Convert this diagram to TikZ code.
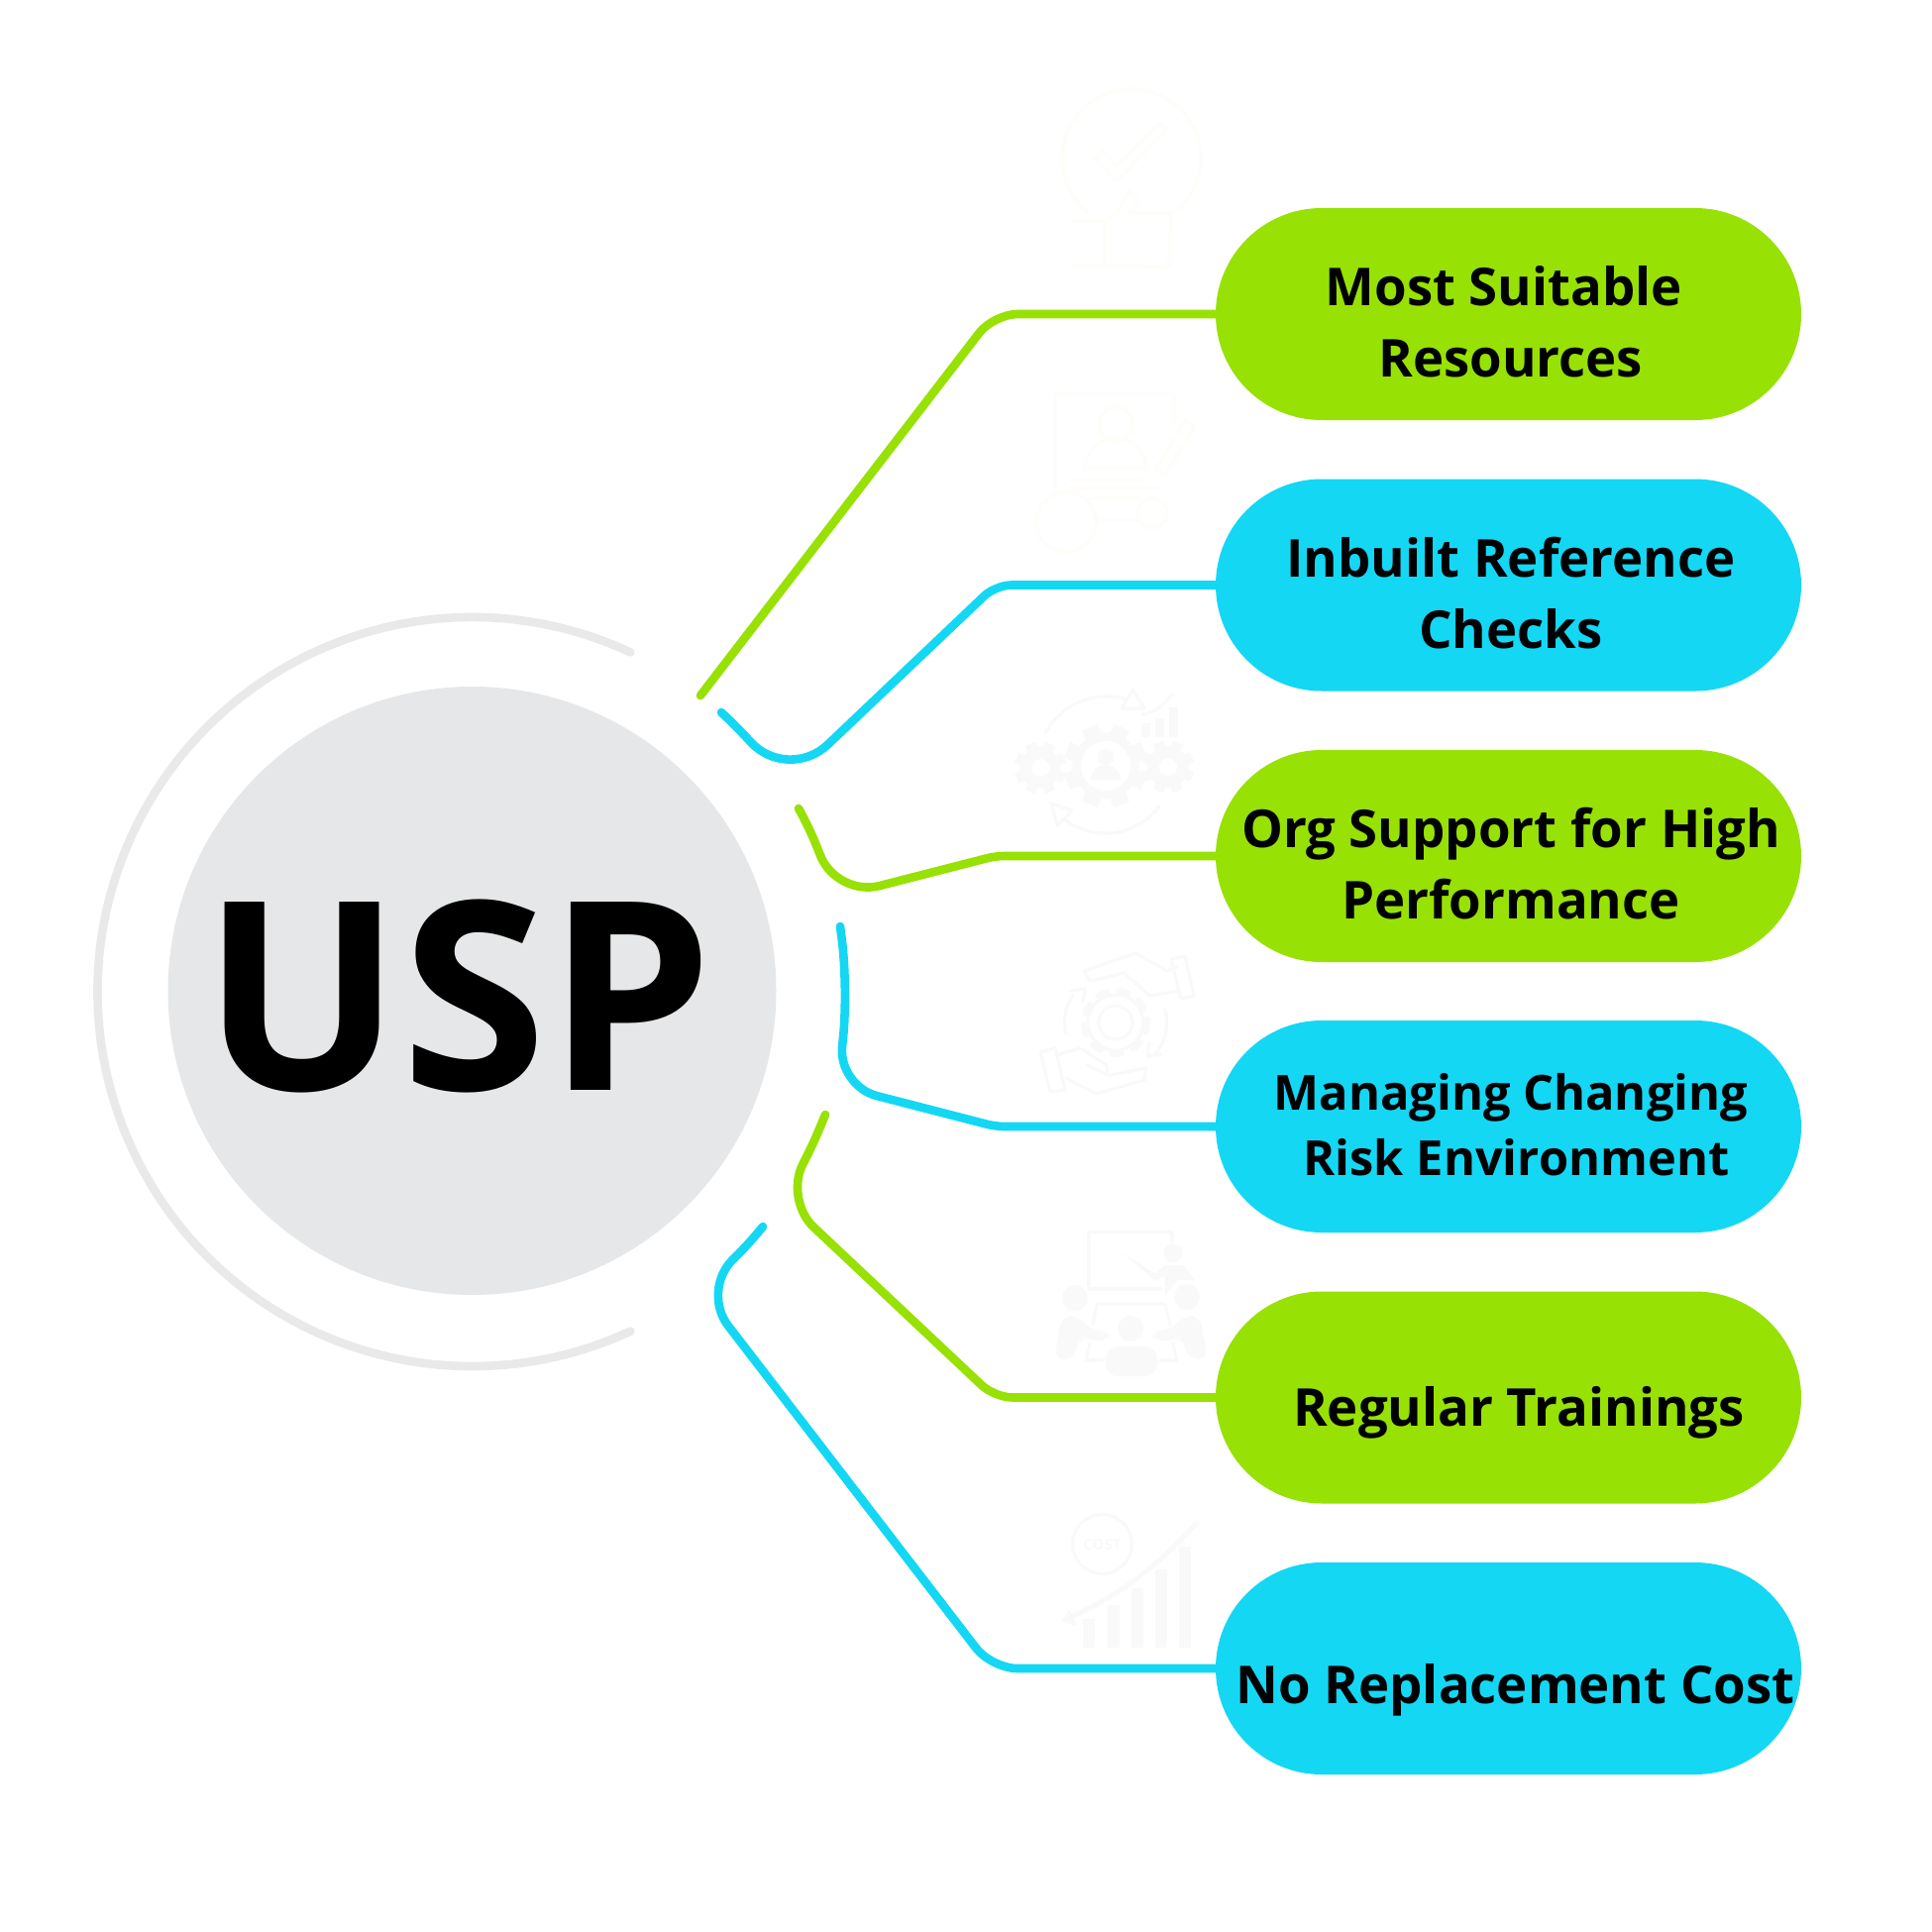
\documentclass[tikz,border=0pt]{standalone}
\usepackage{fontspec}
\setsansfont{Open Sans}
\usepackage{xcolor}
\usetikzlibrary{calc}
\definecolor{uspgrey}{HTML}{E6E7E8}
\definecolor{usparc}{HTML}{E9E9E9}
\definecolor{limefill}{HTML}{98E104}
\definecolor{aquafill}{HTML}{14D7F4}
\definecolor{iconfaint}{HTML}{F9F9F9}
\definecolor{iconpale}{HTML}{FEFDFA}
% toothed wheel: centre, outer radius, hole radius
\newcommand{\toothwheel}[3]{
  \foreach \a in {0,45,...,315}{
    \fill[iconfaint,rotate around={\a+22.5:(#1)}] ($(#1)+(-#2*0.2,-#2)$) rectangle ($(#1)+(#2*0.2,#2)$);
  }
  \fill[iconfaint] (#1) circle[radius=#2*0.8];
  \fill[white] (#1) circle[radius=#3];
}
\begin{document}
\begin{tikzpicture}[x=0.5pt,y=-0.5pt,font=\sffamily\bfseries,
 pillbox/.style={rounded corners=53.5pt,minimum width=295.5pt,minimum height=107pt,inner sep=0pt},
 pilltext/.style={align=center,font=\sffamily\bfseries\fontsize{26.35}{36}\selectfont},
 limeline/.style={draw=limefill,line width=4.3pt,line cap=round},
 aqualine/.style={draw=aquafill,line width=4.3pt,line cap=round},
 iconline/.style={draw=iconfaint,line width=1.6pt,line cap=round,line join=round},
 paleline/.style={draw=iconpale,line width=2pt,line cap=round,line join=round}]
\useasboundingbox (0,0) rectangle (1950,1950);

% centre disc with its open ring
\node[circle,fill=uspgrey,minimum size=307pt,inner sep=0pt](usp) at (476.5,1000){};
\node[font=\sffamily\bfseries\fontsize{133}{133}\selectfont](usptxt) at (462,1005){USP};
\draw[draw=usparc,line width=4.3pt,line cap=round](636.3,658.4) arc[start angle=-65,end angle=-295,radius=378];

% faint icons: thumb and check
\draw[paleline](1097,213.6) arc[start angle=130,end angle=410,radius=70];
\draw[paleline](1104,160) -- (1127,183) -- (1178,130) -- (1170,125) -- (1127,168) -- (1112,152) -- cycle;
\draw[paleline](1084,223) -- (1115,223) -- (1115,268) -- (1084,268);
\draw[paleline](1115,223) -- (1128,214) -- (1140,193) -- (1150,205) -- (1140,215) -- (1182,215) -- (1180,270) -- (1115,268);
% faint icons: form and pencil
\draw[paleline](1065,497) -- (1065,398) -- (1185,398) -- (1185,427);
\draw[paleline](1126,428) circle[radius=17];
\draw[paleline](1095,473) arc[start angle=180,end angle=360,radius=31] -- cycle;
\draw[paleline](1080,485) -- (1153,485);
\draw[paleline](1080,493) -- (1170,493);
\draw[paleline](1100,503) -- (1150,503);
\draw[paleline](1106,525) -- (1148,525);
\draw[paleline](1076,527) circle[radius=30];
\draw[paleline](1163,518) circle[radius=15];
\draw[paleline](1167,473) -- (1197,423) -- (1205,432) -- (1175,480) -- cycle;
% faint icons: three wheels, arcs and bars
\coordinate (gearmid) at (1116,773);
\coordinate (gearleft) at (1050,775);
\coordinate (gearright) at (1179,774);
\toothwheel{gearmid}{42}{25}
\toothwheel{gearleft}{26}{9}
\toothwheel{gearright}{26}{9}
\fill[iconfaint](1116,764) circle[radius=8];
\fill[iconfaint](1101,787) arc[start angle=180,end angle=360,radius=15] -- cycle;
\draw[iconline](1055,740) arc[start angle=208,end angle=285,radius=70];
\draw[iconline](1132,715) -- (1143,696) -- (1155,715) -- cycle;
\draw[iconline](1153,721) .. controls (1170,718) and (1175,710) .. (1184,700);
\fill[iconfaint](1152,730) rectangle (1161,744);
\fill[iconfaint](1166,725) rectangle (1175,744);
\fill[iconfaint](1180,714) rectangle (1189,744);
\draw[iconline](1170,814) arc[start angle=37,end angle=128,radius=68];
\draw[iconline](1061,811) -- (1082,818) -- (1067,833) -- cycle;
% faint icons: open hands round a wheel
\draw[iconline](1126,1032) circle[radius=17];
\draw[iconline](1126,1032) circle[radius=28];
\draw[iconline,line width=3pt,dash pattern=on 5pt off 6pt](1126,1032) circle[radius=32];
\draw[iconline](1094,980) -- (1146,962) -- (1178,980) -- (1188,976);
\draw[iconline](1094,980) -- (1100,990) -- (1135,982) -- (1160,1005) -- (1190,1000);
\draw[iconline](1182,968) -- (1196,965) -- (1205,1005) -- (1192,1008) -- cycle;
\draw[iconline](1050,1062) -- (1065,1058) -- (1075,1100) -- (1060,1102) -- cycle;
\draw[iconline](1066,1065) -- (1090,1058) -- (1117,1075) -- (1118,1085) -- (1097,1075);
\draw[iconline](1076,1088) -- (1106,1104) -- (1155,1090) -- (1157,1078) -- (1120,1085);
\draw[iconline](1076,1044) arc[start angle=166,end angle=214,radius=50];
\draw[iconline](1080,1000) -- (1095,998) -- (1093,1011);
\draw[iconline](1176,1019) arc[start angle=-15,end angle=40,radius=50];
\draw[iconline](1172,1064) -- (1158,1066) -- (1160,1052);
% faint icons: trainer and group
\draw[iconline](1183,1253) -- (1183,1243.5) -- (1099,1243.5) -- (1099,1301) -- (1172,1301);
\fill[iconfaint](1184,1264.5) circle[radius=9.5];
\fill[iconfaint](1133.5,1264.6) -- (1166,1285.6) -- (1175.6,1276.8) -- (1194.7,1276.8) -- (1206,1292) -- (1189,1292) -- (1175.6,1308.6) -- (1175.6,1287.5) -- (1166,1293) -- cycle;
\fill[iconfaint](1085,1310) circle[radius=13];
\fill[iconfaint](1198,1309) circle[radius=13];
\fill[iconfaint](1141,1341) circle[radius=13];
\fill[iconfaint,rounded corners=5pt](1064,1372) -- (1072,1328) -- (1088,1328) -- (1102,1343) -- (1120,1343) -- (1120,1353) -- (1096,1353) -- (1090,1348) -- (1084,1372) -- cycle;
\fill[iconfaint,rounded corners=5pt](1219,1372) -- (1211,1328) -- (1195,1328) -- (1181,1343) -- (1163,1343) -- (1163,1353) -- (1187,1353) -- (1193,1348) -- (1199,1372) -- cycle;
\fill[iconfaint,rounded corners=6pt](1116,1389) rectangle (1168,1359);
\draw[iconline](1103,1337) -- (1107,1316) -- (1176,1316) -- (1181,1337);
\draw[iconline](1100,1356) -- (1096,1373) -- (1113,1373);
\draw[iconline](1184,1356) -- (1188,1373) -- (1171,1373);
% faint icons: cost and falling bars
\draw[iconline](1112.5,1558.5) circle[radius=30];
\node[text=iconfaint,font=\sffamily\bfseries\fontsize{7.5}{9}\selectfont](costtxt) at (1112.5,1559){COST};
\foreach \bx/\bt in {1093/1634,1118/1620,1142/1603,1166/1584,1190/1561}{
  \fill[iconfaint](\bx,\bt) rectangle ++(11.5,1662.6-\bt);
}
\draw[iconline,line width=2.5pt](1208,1537) .. controls (1160,1590) and (1120,1615) .. (1080,1632);
\fill[iconfaint](1071,1637) -- (1079,1624) -- (1087,1641) -- cycle;

% pills and their captions
\node[pillbox,fill=limefill](suit) at (1522.5,317){};
\node[pilltext](suittxt) at (1524.6,325){Most Suitable\hspace*{6.8pt}\\ Resources};
\node[pillbox,fill=aquafill](refs) at (1522.5,590.5){};
\node[pilltext](refstxt) at (1525,599){Inbuilt Reference\\ Checks};
\node[pillbox,fill=limefill](org) at (1522.5,864){};
\node[pilltext](orgtxt) at (1525,872){Org Support for High\\ Performance};
\node[pillbox,fill=aquafill](risk) at (1522.5,1137){};
\node[pilltext,font=\sffamily\bfseries\fontsize{24.4}{33}\selectfont](risktxt) at (1530.5,1135){Managing Changing\hspace*{5.6pt}\\ Risk Environment};
\node[pillbox,fill=limefill](train) at (1522.5,1410.5){};
\node[pilltext](traintxt) at (1533,1426){Regular Trainings};
\node[pillbox,fill=aquafill](cost) at (1522.5,1684){};
\node[pilltext](costlbl) at (1529.5,1706){No Replacement Cost};

% loose ends of the connectors
\coordinate (suitend) at (707,702);
\coordinate (refsend) at (728,719);
\coordinate (orgend) at (806,816);
\coordinate (riskend) at (848,935);
\coordinate (trainend) at (833,1125);
\coordinate (costend) at (770,1238);

\draw[limeline,rounded corners=12pt](suitend)--(1003,317)--(suit.west);
\draw[aqualine](refsend)[rounded corners=8pt]--(744,734)[rounded corners=28pt]--(795,790)[rounded corners=8pt]--(1005,590.5)--(refs.west);
\draw[limeline](orgend)[rounded corners=8pt]--(816,834)[rounded corners=22pt]--(845,905)[rounded corners=4pt]--(1005,864)--(org.west);
\draw[aqualine](riskend)[rounded corners=24pt]--(856,998)[rounded corners=20pt]--(846,1096)[rounded corners=4.5pt]--(1005,1137)--(risk.west);
\draw[limeline](trainend)[rounded corners=8pt]--(821,1154)[rounded corners=20pt]--(792,1211)[rounded corners=9pt]--(1004,1410.5)--(train.west);
\draw[aqualine](costend)[rounded corners=8pt]--(756,1255)[rounded corners=22pt]--(708,1303)[rounded corners=13pt]--(1001,1684)--(cost.west);
\end{tikzpicture}
\end{document}
